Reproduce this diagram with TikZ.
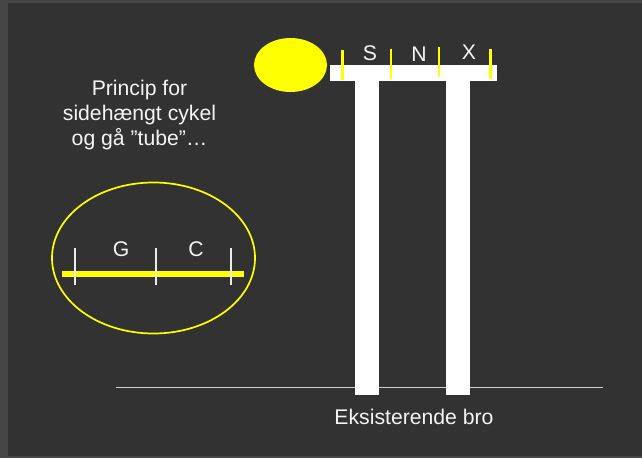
\documentclass[tikz,border=0pt]{standalone}
\usepackage{fontspec}
\usetikzlibrary{shapes.geometric}
\setmainfont{Liberation Sans}
\definecolor{bgdark}{HTML}{323232}
\definecolor{bgedge}{HTML}{454545}
\definecolor{sunyellow}{HTML}{FFFF00}
\definecolor{soft}{HTML}{F4F4F4}
\tikzset{
  pillar/.style={fill=white,draw=none},
  ytick/.style={draw=sunyellow,line width=2.2pt},
  wtick/.style={draw=white!92!black,line width=2.2pt},
  lbl/.style={text=soft,font=\fontsize{21.2}{25}\selectfont,inner sep=0pt,align=center},
}
\begin{document}
\begin{tikzpicture}[x=1pt,y=-1pt]
\useasboundingbox (0,0) rectangle (642,458);
\fill[bgedge] (0,0) rectangle (642,458);
\fill[bgdark] (8,3) rectangle (642,456);
% ground
\coordinate (g1) at (116,387);
\coordinate (g2) at (603,387);
\draw[white!80!black,line width=1pt] (g1) -- (g2);
% bridge
\fill[pillar] (330,65) rectangle (497,81);
\fill[pillar] (355,73) rectangle (379,395);
\fill[pillar] (446,73) rectangle (470,395);
\node[fill=sunyellow,ellipse,minimum width=73pt,minimum height=54pt,inner sep=0pt] (sun) at (290.5,65) {};
\draw[ytick] (342.5,50) -- (342.5,80);
\draw[ytick] (391,49) -- (391,79);
\draw[ytick] (439,47) -- (439,77);
\draw[ytick] (490.5,49) -- (490.5,79);
\node[lbl] (s) at (370,53) {S};
\node[lbl] (n) at (419,54) {N};
\node[lbl] (x) at (469,52) {X};
\node[lbl] (bro) at (414,417) {Eksisterende bro};
\node[lbl] (princip) at (139.5,115) {Princip for\\sidehængt cykel\\og gå ”tube”…};
% inset
\node[draw=sunyellow,line width=1.7pt,ellipse,minimum width=203pt,minimum height=151pt,inner sep=0pt] (inset) at (153.5,258) {};
\fill[sunyellow] (62,271) rectangle (244,277);
\draw[wtick] (74.7,248) -- (74.7,285);
\draw[wtick] (156.3,248) -- (156.3,285);
\draw[wtick] (231.3,248) -- (231.3,285);
\node[lbl] (G) at (121,249) {G};
\node[lbl] (C) at (196,249) {C};
\end{tikzpicture}
\end{document}
